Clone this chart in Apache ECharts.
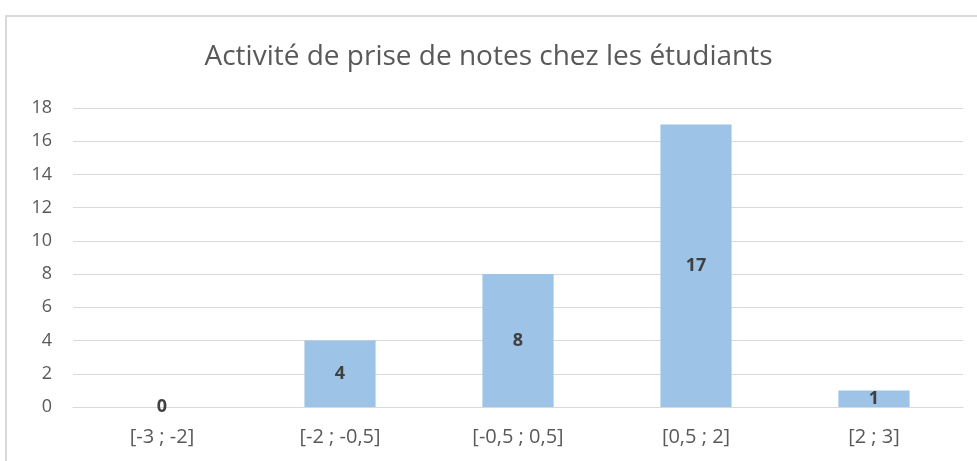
<!DOCTYPE html>
<html>
<head>
<meta charset="utf-8">
<script src="https://cdn.jsdelivr.net/npm/echarts@6/dist/echarts.min.js"></script>
<style>
	html, body { margin: 0; padding: 0; background: #fff; }
	#frame { position: absolute; left: 5px; top: 15px; width: 980px; height: 460px; border-left: 2px solid #d9d9d9; border-top: 2px solid #d9d9d9; box-sizing: border-box; }
	#chart { position: absolute; left: 0; top: 0; width: 977px; height: 461px; }
</style>
</head>
<body>
<div id="frame"></div>
<div id="chart"></div>
<script>
var titleText = 'Activité de prise de notes chez les étudiants';
var categories = ['[-3 ; -2]', '[-2 ; -0,5]', '[-0,5 ; 0,5]', '[0,5 ; 2]', '[2 ; 3]'];
var counts = [0, 4, 8, 17, 1];
var yTicks = [0, 2, 4, 6, 8, 10, 12, 14, 16, 18];

(function(){
	var font = 'Open Sans';
	var myChart = echarts.init(document.getElementById('chart'));
	var option = {
		animation: false,
		title: {
			text: titleText,
			left: 'center',
			top: 38,
			textStyle: { fontFamily: font, fontSize: 28, fontWeight: 'normal', color: '#595959' }
		},
		grid: { left: 73, right: 14, top: 108, bottom: 54 },
		xAxis: {
			type: 'category',
			data: categories,
			axisLine: { lineStyle: { color: '#d9d9d9', width: 1 } },
			axisTick: { show: false },
			axisLabel: { fontFamily: font, fontSize: 20, color: '#595959', margin: 20 }
		},
		yAxis: {
			type: 'value',
			min: yTicks[0],
			max: yTicks[yTicks.length - 1],
			interval: 2,
			axisLine: { show: false },
			axisTick: { show: false },
			splitLine: { lineStyle: { color: '#d9d9d9', width: 1 } },
			axisLabel: { fontFamily: font, fontSize: 18, color: '#595959', margin: 21 }
		},
		series: [{
			type: 'bar',
			data: counts,
			barWidth: '40%',
			itemStyle: { color: '#9dc3e6' },
			label: {
				show: true,
				position: 'inside',
				fontFamily: font,
				fontSize: 18,
				fontWeight: 'bold',
				color: '#404040'
			}
		}]
	};
	myChart.setOption(option);
})();
</script>
</body>
</html>
